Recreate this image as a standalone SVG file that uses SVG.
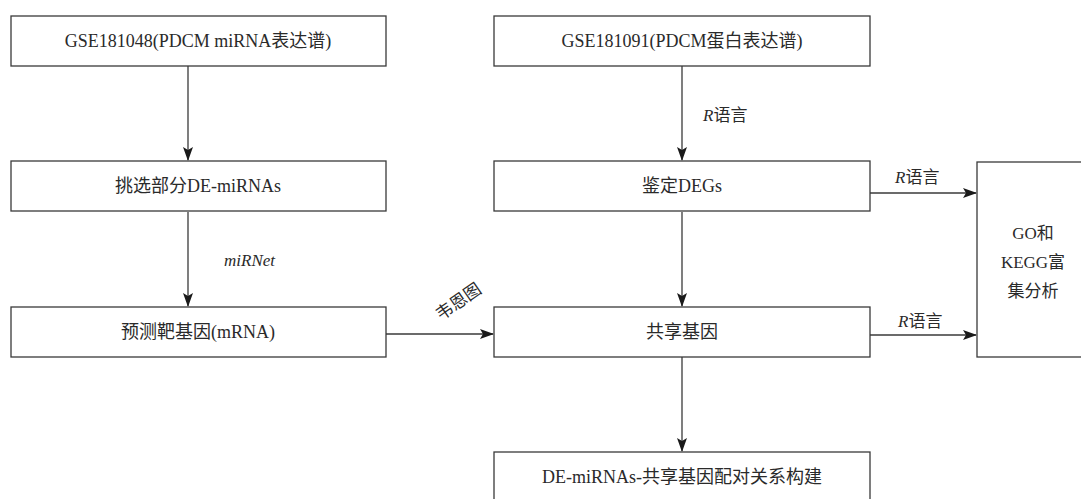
<svg xmlns="http://www.w3.org/2000/svg" width="1081" height="499" viewBox="0 0 1081 499">
<style>
.box{fill:#fff;stroke:#3a3a3a;stroke-width:1.3}
.t{font-family:"Liberation Serif","Times New Roman","DejaVu Serif","Noto Sans CJK SC",serif;font-size:18px;fill:#2a2a2a;text-anchor:middle}
.lbl{font-family:"Liberation Serif","Times New Roman","DejaVu Serif","Noto Sans CJK SC",serif;font-size:17px;fill:#2a2a2a}
.c{stroke:#3a3a3a;stroke-width:1.3;fill:none;marker-end:url(#ah)}
</style>
<defs>
<marker id="ah" markerWidth="14" markerHeight="10" refX="13" refY="5" orient="auto" markerUnits="userSpaceOnUse">
<path d="M0,0 L14,5 L0,10 L3,5 Z" fill="#1a1a1a"/>
</marker>
</defs>
<rect width="1081" height="499" fill="#fff"/>
<g id="connectors">
<path class="c" d="M188,66 V160"/>
<path class="c" d="M188,212 V306"/>
<path class="c" d="M386,334 H493"/>
<path class="c" d="M682,66 V160"/>
<path class="c" d="M682,212 V306"/>
<path class="c" d="M682,357 V451"/>
<path class="c" d="M870,193 H976"/>
<path class="c" d="M870,335 H976"/>
<text class="lbl" x="224" y="266" font-style="italic">miRNet</text>
<text class="lbl" x="703" y="121"><tspan font-style="italic">R</tspan>语言</text>
<text class="lbl" x="895" y="183"><tspan font-style="italic">R</tspan>语言</text>
<text class="lbl" x="898" y="327"><tspan font-style="italic">R</tspan>语言</text>
<text class="lbl" x="0" y="0" transform="translate(441,321) rotate(-35)">韦恩图</text>
</g>
<g id="n1"><rect class="box" x="11" y="16" width="375" height="50"/><text class="t" x="198" y="47">GSE181048(PDCM miRNA表达谱)</text></g>
<g id="n2"><rect class="box" x="11" y="161" width="375" height="50"/><text class="t" x="198" y="192">挑选部分DE-miRNAs</text></g>
<g id="n3"><rect class="box" x="11" y="307" width="375" height="50"/><text class="t" x="198" y="338">预测靶基因(mRNA)</text></g>
<g id="n4"><rect class="box" x="494" y="16" width="376" height="50"/><text class="t" x="682" y="47">GSE181091(PDCM蛋白表达谱)</text></g>
<g id="n5"><rect class="box" x="494" y="161" width="376" height="50"/><text class="t" x="682" y="192">鉴定DEGs</text></g>
<g id="n6"><rect class="box" x="494" y="307" width="376" height="50"/><text class="t" x="682" y="338">共享基因</text></g>
<g id="n7"><rect class="box" x="494" y="452" width="376" height="60"/><text class="t" x="682" y="483">DE-miRNAs-共享基因配对关系构建</text></g>
<g id="n8"><rect class="box" x="977" y="162" width="120" height="195"/><text class="lbl" x="1033" y="239" text-anchor="middle">GO和</text><text class="lbl" x="1033" y="268" text-anchor="middle">KEGG富</text><text class="lbl" x="1033" y="297" text-anchor="middle">集分析</text></g>
</svg>
